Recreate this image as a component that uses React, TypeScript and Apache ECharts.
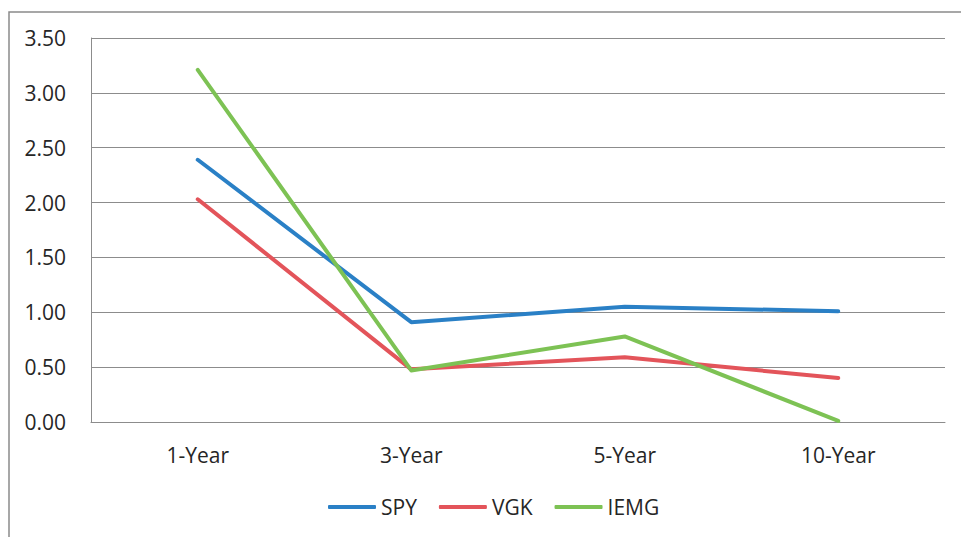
import React, { useEffect, useRef } from "react";
import * as echarts from "echarts";

const categories = ["1-Year", "3-Year", "5-Year", "10-Year"];
const spy = [2.39, 0.91, 1.05, 1.01];
const vgk = [2.03, 0.48, 0.59, 0.4];
const iemg = [3.21, 0.47, 0.78, 0.01];
const seriesNames = ["SPY", "VGK", "IEMG"];
const colors = ["#2A80C6", "#E3545A", "#7DC254"];

const FONT = "'Open Sans', 'Liberation Sans', sans-serif";
const TEXT = "#262626";
const GRID = "#8c8c8c";

export default function App() {
  const ref = useRef<HTMLDivElement>(null);
  useEffect(() => {
    if (!ref.current) return;
    const chart = echarts.init(ref.current, undefined, { renderer: "svg" });
    const data = [spy, vgk, iemg];
    chart.setOption({
      animation: false,
      backgroundColor: "#ffffff",
      graphic: [
        {
          type: "rect",
          shape: { x: 9, y: 12, width: 980, height: 560 },
          style: { fill: "none", stroke: "#8a8a8a", lineWidth: 1.5 },
          silent: true,
        },
      ],
      grid: { left: 91, top: 38, right: 16, bottom: 115, containLabel: false },
      legend: {
        data: seriesNames,
        left: 328,
        top: 496,
        padding: 0,
        icon: "roundRect",
        itemWidth: 48,
        itemHeight: 4,
        itemGap: 22,
        textStyle: { fontFamily: FONT, fontSize: 21, color: TEXT, lineHeight: 22 },
      },
      xAxis: {
        type: "category",
        data: categories,
        boundaryGap: true,
        axisLine: { show: true, lineStyle: { color: GRID, width: 1 } },
        axisTick: { show: false },
        axisLabel: { fontFamily: FONT, fontSize: 21, color: TEXT, margin: 22 },
        splitLine: { show: false },
      },
      yAxis: {
        type: "value",
        min: 0,
        max: 3.5,
        interval: 0.5,
        axisLine: { show: true, lineStyle: { color: GRID, width: 1 } },
        axisTick: { show: false },
        axisLabel: {
          fontFamily: FONT,
          fontSize: 21,
          color: TEXT,
          margin: 25,
          formatter: (v: number) => v.toFixed(2),
        },
        splitLine: { show: true, lineStyle: { color: GRID, width: 1 } },
      },
      series: seriesNames.map((name, i) => ({
        name,
        type: "line",
        data: data[i],
        symbol: "none",
        smooth: false,
        itemStyle: { color: colors[i] },
        lineStyle: { color: colors[i], width: 4, cap: "round", join: "round" },
      })),
    });
    return () => chart.dispose();
  }, []);
  return (
    <div
      ref={ref}
      style={{ position: "fixed", left: 0, top: 0, width: 961, height: 537 }}
    />
  );
}
